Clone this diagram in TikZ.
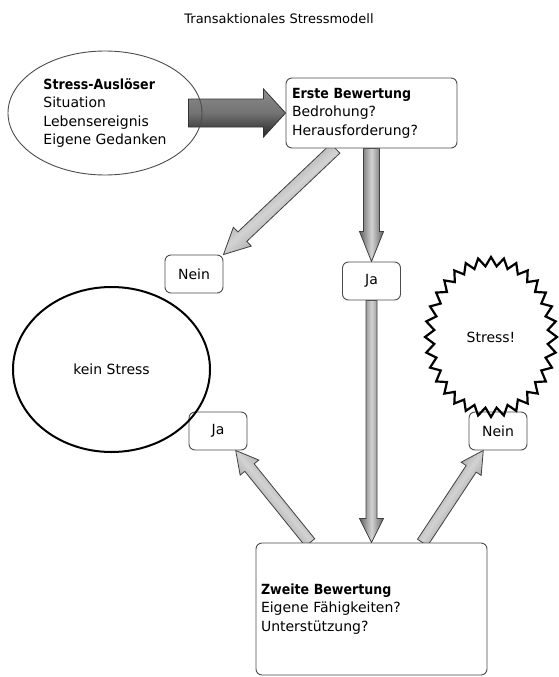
\documentclass[tikz,border=0pt]{standalone}
\usepackage{fontspec}
\setmainfont{DejaVu Sans}[BoldFont=DejaVu Sans Condensed Bold]
\usetikzlibrary{shapes.geometric,calc,backgrounds}

\tikzset{
  box/.style={draw=black!70, line width=0.9pt, rounded corners=6pt, fill=white, align=left, inner xsep=6pt},
  answer/.style={draw=black!70, line width=0.9pt, rounded corners=6pt, fill=white, minimum width=58pt, minimum height=38pt, inner sep=0pt},
  lightarrow/.style={draw=black!75, line width=0.8pt, left color=black!62, right color=black!62, middle color=gray!35, shading angle=#1},
  darkarrow/.style={draw=black!80, line width=0.8pt, top color=gray!90, bottom color=black!85, middle color=black!55},
}

% block arrow: style, from, to, shaft half width, head half width, head length
\newcommand{\blockarrow}[6]{%
  \coordinate (ba-base) at ($(#3)!#6!(#2)$);
  \path[#1] ($(#2)!#4!90:(#3)$) -- ($(ba-base)!#4!-90:(#2)$) -- ($(ba-base)!#5!-90:(#2)$)
    -- (#3) -- ($(ba-base)!#5!90:(#2)$) -- ($(ba-base)!#4!90:(#2)$) -- ($(#2)!#4!-90:(#3)$) -- cycle;
}

\begin{document}
\begin{tikzpicture}[x=1pt,y=1pt,font=\fontsize{14}{18.5}\selectfont]
  \useasboundingbox (0,0) rectangle (558,-677);

  % title
  \node (title) at (279,-19) {\fontsize{13}{15}\selectfont Transaktionales Stressmodell};

  % trigger and first appraisal
  \node[ellipse, draw=black!70, line width=0.9pt, minimum width=194pt, minimum height=124pt, align=left, inner sep=0pt] (trigger) at (105,-113)
    {\textbf{Stress-Auslöser}\\Situation\\Lebensereignis\\Eigene Gedanken};
  \node[box, text width=159pt, minimum height=70pt] (first) at (371.5,-113)
    {\textbf{Erste Bewertung}\\Bedrohung?\\Herausforderung?};

  % answers
  \node[answer] (no1) at (194,-274) {Nein};
  \node[answer] (yes1) at (371.5,-281) {Ja};
  \node[answer] (yes2) at (218,-431) {Ja};
  \node[answer] (no2) at (498,-431) {Nein};

  % outcomes
  \node[ellipse, draw=black, line width=2pt, minimum width=197pt, minimum height=165pt] (nostress) at (111.5,-369.5) {kein Stress};
  \draw[line width=2.2pt, line join=miter]
    plot[samples at={0,...,63}, variable=\k] ({491+(66-9*mod(\k,2))*cos(\k*5.625)}, {-337+(80-9*mod(\k,2))*sin(\k*5.625)}) -- cycle;
  \node (stress) at (491,-337) {Stress!};

  % second appraisal
  \node[box, text width=221pt, inner xsep=5pt, minimum height=132pt] (second) at (371.5,-609)
    {\textbf{Zweite Bewertung}\\Eigene Fähigkeiten?\\Unterstützung?};

  % connectors
  \coordinate (triggerout) at ($(trigger.east)+(-14,0)$);
  \coordinate (firstleft) at ($(first.south west)!0.29!(first.south east)$);
  \coordinate (secondleft) at ($(second.north west)!0.235!(second.north east)$);
  \coordinate (secondright) at ($(second.north west)!0.72!(second.north east)$);
  \coordinate (yes2tip) at ($(yes2.south)!0.6!(yes2.south east)$);
  \coordinate (no2tip) at ($(no2.south west)!0.25!(no2.south east)$);

  \begin{scope}[on background layer]
    \blockarrow{darkarrow}{triggerout}{first.west}{14pt}{24pt}{22pt}
    \blockarrow{lightarrow=90}{first.south}{yes1.north}{8pt}{12pt}{30pt}
    \blockarrow{lightarrow=41}{firstleft}{no1.north east}{6.5pt}{13pt}{26pt}
    \blockarrow{lightarrow=90}{yes1.south}{second.north}{5.5pt}{12pt}{24pt}
    \blockarrow{lightarrow=130}{secondleft}{yes2tip}{6pt}{12pt}{22pt}
    \blockarrow{lightarrow=56}{secondright}{no2tip}{6pt}{12pt}{22pt}
  \end{scope}
\end{tikzpicture}
\end{document}
